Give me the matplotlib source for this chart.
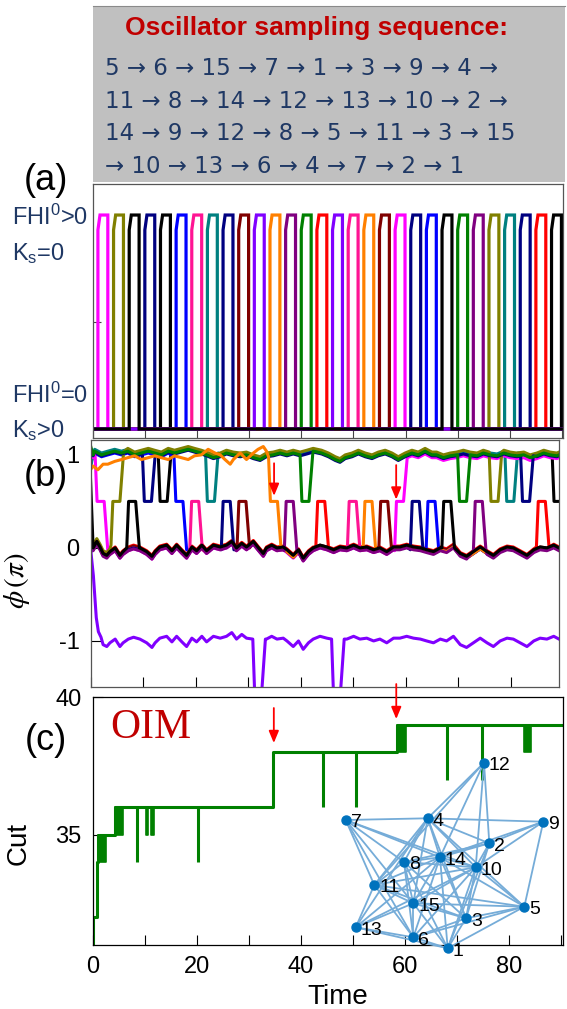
import matplotlib
matplotlib.use('Agg')
import matplotlib.pyplot as plt
from matplotlib.ticker import MultipleLocator, FixedLocator, NullFormatter

plt.rcParams['font.family'] = ['Liberation Sans', 'DejaVu Sans']
plt.rcParams['mathtext.fontset'] = 'custom'
plt.rcParams['mathtext.rm'] = 'Liberation Sans'
plt.rcParams['mathtext.it'] = 'Liberation Sans:italic'

W, H = 567, 1009

# ---------------- data ----------------
sequence = [5, 6, 15, 7, 1, 3, 9, 4, 11, 8, 14, 12, 13, 10, 2,
            14, 9, 12, 8, 5, 11, 3, 15, 10, 13, 6, 4, 7, 2, 1]
pulse_start = [1, 4, 7, 10, 13, 16, 19, 22, 25, 28, 31, 34, 37, 40, 43,
               46, 49, 52, 55, 58, 61, 64, 67, 70, 73, 76, 79, 82, 85, 88]
pulse_width = 1.9
# phase of the sampled oscillator once its pulse is over
state_after = [0, 1, 0, 1, 1, 0, 0, 1, 0, 0, -1, 0, 0, 1, 0,
               -1, 0, 0, 0, 1, 0, 0, 0, 1, 0, 1, 1, 1, 0, 0.5]

# oscillators 1..15
initial_state = [1, 0, 1, 1, 1, 0, 1, 0, 0, 1, 0, 1, 0, -1, 0]
start_phase = [0.9, 0.2, 1.0, 0.85, 1.05, 0.15, 1.0, -0.05, 0.3, 1.1, 0.1, 0.84, 0.05, 0.0, 0.75]
level_offset = [0.0, 0.01, -0.02, 0.02, -0.03, 0.03, -0.01, 0.0, -0.02, 0.0,
                -0.02, -0.02, -0.03, 0.02, 0.0]
osc_colors = ['#000000', '#ff0000', '#0000ff', '#008080', '#ff00ff', '#808000', '#000080',
              '#800000', '#ff1493', '#008000', '#000080', '#ff8000', '#800080', '#8000ff',
              '#000000']

# wiggles of the phase traces around the 0 / -1 and the 1 levels
ripple_lo = [(0.5, 0.03), (1.2, 0.07), (1.8, 0.01), (2.4, -0.06), (3.1, -0.08), (3.7, -0.04),
             (4.7, 0.0), (5.6, -0.08), (6.2, -0.04), (7.2, 0.0), (8.2, 0.02), (9.4, 0.0),
             (10.7, -0.04), (11.7, -0.09), (12.3, -0.04), (13.2, 0.01), (14.5, 0.03),
             (15.5, -0.03), (16.4, 0.03), (17.4, -0.03), (18.3, -0.08), (19.3, 0.01),
             (20.2, -0.03), (21.2, 0.03), (22.1, -0.03), (23.4, 0.03), (24.7, 0.01),
             (25.9, 0.03), (26.9, 0.07), (27.8, 0.0), (28.8, 0.05), (29.7, 0.01), (31.0, 0.07),
             (32.0, 0.0), (32.9, -0.06), (33.5, 0.0), (34.5, 0.03), (35.5, 0.0), (36.7, 0.01),
             (37.4, -0.02), (38.6, -0.08), (39.6, -0.02), (40.5, -0.11), (41.5, -0.04),
             (42.4, 0.0), (43.7, 0.03), (45.0, 0.01), (46.3, -0.02), (47.5, 0.01), (48.8, 0.0),
             (50.1, 0.03), (51.3, 0.0), (52.6, 0.01), (53.9, -0.02), (55.1, 0.0), (56.4, -0.04),
             (57.7, 0.01), (58.9, 0.01), (60.2, 0.03), (61.5, 0.01), (62.8, 0.0), (64.0, -0.02),
             (65.3, -0.04), (66.6, 0.0), (67.8, -0.02), (69.1, 0.03), (70.4, -0.06),
             (71.6, -0.09), (72.9, -0.04), (74.2, 0.01), (75.5, -0.04), (76.7, -0.08),
             (78.0, -0.02), (79.3, 0.01), (80.5, 0.0), (81.8, -0.04), (83.1, -0.08),
             (84.4, -0.02), (85.6, 0.01), (86.9, 0.0), (88.2, 0.03), (89.4, 0.01)]
ripple_hi = [(0.8, 0.04), (2.1, 0.0), (3.3, 0.02), (4.6, 0.04), (5.9, 0.02), (7.1, 0.04),
             (8.4, 0.0), (9.7, 0.02), (11.0, 0.04), (12.2, 0.02), (13.5, 0.0), (14.8, 0.04),
             (16.0, 0.02), (17.3, 0.04), (18.6, 0.06), (19.8, 0.04), (21.1, 0.02), (22.1, 0.0),
             (23.4, -0.03), (24.7, -0.01), (25.9, 0.02), (27.2, 0.0), (28.5, -0.01),
             (29.7, 0.0), (31.0, -0.03), (32.3, -0.05), (33.5, -0.01), (34.8, 0.0),
             (36.1, 0.02), (37.4, 0.0), (38.6, 0.02), (39.9, 0.0), (41.2, 0.02), (42.4, 0.04),
             (44.0, 0.02), (45.3, -0.01), (46.6, -0.05), (47.5, -0.07), (48.5, -0.03),
             (49.8, -0.01), (51.0, 0.02), (52.3, -0.01), (53.6, -0.03), (54.8, 0.0),
             (56.1, 0.02), (57.4, -0.01), (58.6, -0.05), (59.9, -0.01), (61.2, 0.02),
             (62.4, 0.0), (63.7, 0.04), (65.0, 0.0), (65.9, 0.0), (67.2, -0.03), (68.5, -0.01),
             (69.7, 0.0), (71.0, 0.02), (72.3, 0.0), (73.6, -0.01), (74.8, 0.02), (76.1, 0.0),
             (77.4, -0.01), (78.7, 0.02), (79.9, 0.0), (81.2, -0.01), (82.5, 0.0),
             (83.7, -0.03), (85.0, -0.01), (86.3, 0.02), (87.5, 0.0), (88.8, -0.01)]
# orange (osc 12) before its first flip, violet (osc 14) initial fall
orange_early = [(0, 0.84), (0.5, 0.88), (1.4, 0.84), (2.4, 0.9), (3.3, 0.9), (4.6, 0.93),
                (5.9, 0.95), (7.1, 0.97), (8.4, 0.99), (9.7, 0.95), (11.0, 0.97), (12.2, 0.99),
                (13.5, 0.97), (14.8, 0.95), (16.0, 0.99), (17.3, 0.97), (18.6, 0.95),
                (19.8, 0.99), (21.1, 1.0), (22.4, 1.06), (23.7, 1.02), (24.7, 1.0), (25.6, 0.95),
                (26.6, 0.9), (27.2, 0.95), (28.5, 1.02), (29.7, 0.95), (31.0, 1.02),
                (31.9, 1.06), (32.9, 1.09), (33.5, 1.04)]
violet_early = [(0, 0.0), (0.55, -0.3), (1.1, -0.75), (1.5, -0.9), (2.0, -0.96)]

# cut value (panel c)
cut_t = [0, 0.05, 0.8, 1.1, 4.3, 34.6, 58.4, 90.3]
cut_v = [31, 32, 34, 35, 36, 38, 39, 39]
cut_dips = [(1.1, 2.6, 34, 35), (4.3, 5.8, 35, 36), (8.5, 8.5, 34, 36), (10.2, 10.7, 35, 36),
            (11.3, 11.8, 35, 36), (20.2, 20.2, 34, 36), (44.3, 44.3, 36, 38),
            (50.5, 50.5, 36, 38), (58.4, 60.2, 38, 39), (68.0, 68.0, 37, 39),
            (74.7, 74.7, 37, 39), (82.8, 84.1, 38, 39)]

# graph inset (layout coordinates)
node_pos = {1: (447.7, 948.3), 2: (489.3, 843.3), 3: (466.0, 918.3), 4: (427.7, 818.3),
            5: (524.3, 906.7), 6: (413.3, 937.3), 7: (345.7, 820.0), 8: (404.0, 862.0),
            9: (543.3, 821.7), 10: (475.7, 867.3), 11: (374.3, 885.0), 12: (484.0, 762.7),
            13: (355.7, 927.3), 14: (440.0, 857.3), 15: (413.3, 903.3)}
edges = [(12, 4), (12, 14), (12, 10), (12, 2), (12, 11),
         (7, 4), (7, 8), (7, 14), (7, 11), (7, 15), (7, 6), (7, 10),
         (4, 9), (4, 2), (4, 14), (4, 10), (4, 8), (4, 11), (4, 13), (4, 15), (4, 3), (4, 5),
         (9, 2), (9, 10), (9, 14), (9, 5),
         (2, 14), (2, 8), (2, 10), (2, 1), (2, 3),
         (14, 8), (14, 10), (14, 11), (14, 15), (14, 3), (14, 1), (14, 6), (14, 13), (14, 5),
         (8, 10), (8, 11), (8, 15), (8, 6), (8, 3), (8, 1),
         (10, 11), (10, 15), (10, 6), (10, 13), (10, 3), (10, 5), (10, 1),
         (11, 13), (11, 6), (11, 15), (11, 3), (11, 5),
         (15, 5), (15, 3), (15, 6), (15, 13), (15, 1),
         (5, 3), (5, 1), (5, 6), (3, 6), (3, 1), (13, 6), (13, 1), (6, 1)]

seq_lines = [sequence[0:8], sequence[8:15], sequence[15:23], sequence[23:30]]

T_END_A, T_END_B, T_END_C = 90.2, 89.2, 90.3


def box(x0, y0, x1, y1):
    return [x0 / W, 1 - y1 / H, (x1 - x0) / W, (y1 - y0) / H]


def flat(t0, t1, level, off):
    rip = ripple_hi if level == 1 else ripple_lo
    ts, vs = [], []
    if level in (0, 1, -1):
        for t, r in rip:
            if t0 < t < t1:
                ts.append(t)
                vs.append(level + r + off)
    ts.append(t1)
    vs.append(level + off)
    return ts, vs


def phase_trace(osc):
    i = osc - 1
    off = level_offset[i]
    if osc == 12:
        ts = [p[0] for p in orange_early]
        vs = [p[1] for p in orange_early]
    elif osc == 14:
        ts = [p[0] for p in violet_early]
        vs = [p[1] for p in violet_early]
    else:
        ts = [0.0, 0.5]
        vs = [start_phase[i], initial_state[i] + off]
    t_free = ts[-1]
    level = initial_state[i]
    for k, o in enumerate(sequence):
        if o != osc:
            continue
        s = pulse_start[k]
        if t_free < s - 0.1:
            a, b = flat(t_free, s - 0.1, level, off)
            ts += a
            vs += b
        mid = -1.55 if level < 0 else 0.5
        new = state_after[k]
        ts += [s + 0.25, s + 1.6]
        vs += [mid, mid]
        t_free = s + 1.6
        if new != 0.5:
            ts.append(s + 2.3)
            vs.append(new + off)
            t_free = s + 2.3
        level = new
    if t_free < T_END_B:
        a, b = flat(t_free, T_END_B, level, off)
        ts += a
        vs += b
    return ts, vs


def pulse_trace(osc):
    ts, vs = [0.0], [0.0]
    for k, o in enumerate(sequence):
        if o != osc:
            continue
        s = pulse_start[k]
        ts += [s, s, s + 0.4, s + pulse_width, s + pulse_width]
        vs += [0, 0.93, 1, 1, 0]
    ts.append(T_END_A)
    vs.append(0)
    return ts, vs


fig = plt.figure(figsize=(W / 100, H / 100), dpi=100)

# ---------------- header box ----------------
axh = fig.add_axes(box(93, 6, 565, 182))
axh.set_facecolor('#c0c0c0')
axh.set_xticks([])
axh.set_yticks([])
for side in ['left', 'right', 'bottom']:
    axh.spines[side].set_visible(False)
axh.spines['top'].set_color('#8a8a8a')
fig.text(125 / W, 1 - 35 / H, 'Oscillator sampling sequence:', fontsize=19,
         fontweight='bold', color='#c00000', ha='left', va='baseline')
baselines = [75, 108, 140, 173]
for n, chunk in enumerate(seq_lines):
    line = ' \u2192 '.join(str(v) for v in chunk)
    if n < 2:
        line = line + ' \u2192'
    if n == 3:
        line = '\u2192 ' + line
    fig.text(105 / W, 1 - baselines[n] / H, line, fontsize=16.5, color='#1f3864',
             family='DejaVu Sans', ha='left', va='baseline')

# ---------------- panel (a) ----------------
axa = fig.add_axes(box(92.7, 184, 563, 438))
for osc in range(1, 16):
    ts, vs = pulse_trace(osc)
    axa.plot(ts, vs, color=osc_colors[osc - 1], lw=2.3, solid_joinstyle='miter')
axa.set_xlim(0, T_END_A)
axa.set_ylim(-0.042, 1.145)
axa.xaxis.set_major_locator(MultipleLocator(10))
axa.xaxis.set_major_formatter(NullFormatter())
axa.yaxis.set_major_locator(FixedLocator([0.5]))
axa.yaxis.set_major_formatter(NullFormatter())
axa.tick_params(direction='in', length=6, width=0.8, colors='#444444')

label_color = '#1f3864'
a_labels = [('FHI$^0$>0', 225), ('K$_\\mathrm{s}$=0', 260),
            ('FHI$^0$=0', 403), ('K$_\\mathrm{s}$>0', 437)]
for txt, yb in a_labels:
    fig.text(12 / W, 1 - yb / H, txt, fontsize=17, color=label_color,
             ha='left', va='baseline')

# ---------------- panel (b) ----------------
axb = fig.add_axes(box(90.5, 440, 559, 687))
for osc in range(1, 16):
    ts, vs = phase_trace(osc)
    axb.plot(ts, vs, color=osc_colors[osc - 1], lw=2.2)
axb.set_xlim(0, T_END_B)
axb.set_ylim(-1.495, 1.16)
axb.xaxis.set_major_locator(MultipleLocator(10))
axb.xaxis.set_major_formatter(NullFormatter())
axb.set_yticks([-1, 0, 1])
axb.set_yticklabels(['-1', '0', '1'])
axb.tick_params(direction='in', length=7, width=0.8, labelsize=17, pad=8)
axb.set_ylabel(r'$\phi\,(\pi)$', fontsize=21, math_fontfamily='stix')
axb.yaxis.set_label_coords(-0.125, 0.43)

arrow = dict(arrowstyle='-|>,head_length=0.6,head_width=0.25', color='red', lw=1.3,
             mutation_scale=12, shrinkA=0, shrinkB=0)
for t, y0, y1 in [(34.95, 0.91, 0.56), (58.2, 0.89, 0.52)]:
    axb.annotate('', xy=(t, y1), xytext=(t, y0), arrowprops=arrow, annotation_clip=False)

# ---------------- panel (c) ----------------
axc = fig.add_axes(box(92.5, 697, 563, 945))
green = '#008000'
axc.step(cut_t, cut_v, where='post', color=green, lw=2.2)
for t0, t1, lo, hi in cut_dips:
    if t1 > t0:
        axc.fill_between([t0, t1], [lo, lo], [hi, hi], color=green, lw=1.2)
    else:
        axc.vlines(t0, lo, hi, color=green, lw=2.2)
axc.set_xlim(0, T_END_C)
axc.set_ylim(31, 40)
axc.xaxis.set_major_locator(MultipleLocator(20))
axc.xaxis.set_minor_locator(MultipleLocator(10))
axc.set_yticks([35, 40])
axc.tick_params(which='both', direction='in', length=7, width=0.8, labelsize=17, pad=8)
axc.set_xlabel('Time', fontsize=20, va='top')
axc.xaxis.set_label_coords(0.522, -0.158)
axc.set_ylabel('Cut', fontsize=20)
axc.yaxis.set_label_coords(-0.13, 0.41)
for t, y0, y1 in [(34.8, 39.6, 38.33), (58.3, 40.47, 39.2)]:
    axc.annotate('', xy=(t, y1), xytext=(t, y0), arrowprops=arrow, annotation_clip=False)
axc.text(0.038, 0.875, 'OIM', transform=axc.transAxes, fontsize=30,
         family='Liberation Serif', color='#c00000', ha='left', va='center')

for ax in (axa, axb):
    for sp in ax.spines.values():
        sp.set_color('#555555')
        sp.set_linewidth(0.9)
for sp in axc.spines.values():
    sp.set_linewidth(0.9)

# graph inset
axg = fig.add_axes(box(330, 750, 560, 960))
axg.set_xlim(330, 560)
axg.set_ylim(960, 750)
axg.axis('off')
for a, b in edges:
    xa, ya = node_pos[a]
    xb, yb = node_pos[b]
    axg.plot([xa, xb], [ya, yb], color='#75acd8', lw=1.3, zorder=1)
for n, (x, y) in node_pos.items():
    axg.plot(x, y, 'o', color='#0072bd', ms=6.5, zorder=3)
    axg.annotate(str(n), (x, y), xytext=(3.5, -2), textcoords='offset points',
                 fontsize=14, ha='left', va='center', zorder=4)

# panel letters
for txt, yc in [('(a)', 180), ('(b)', 476), ('(c)', 740)]:
    fig.text(46 / W, 1 - yc / H, txt, fontsize=26, ha='center', va='center')

fig.savefig('out.png', dpi=100)
